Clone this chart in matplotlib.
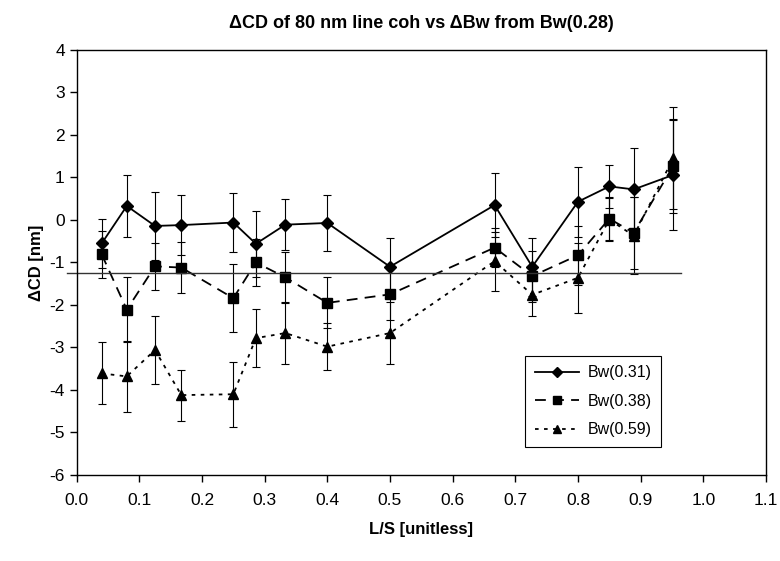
import matplotlib
matplotlib.use("Agg")
import matplotlib.pyplot as plt

plt.rcParams["font.family"] = ["Liberation Sans", "DejaVu Sans"]
plt.rcParams["axes.unicode_minus"] = False

ls_ratio = [0.04, 0.08, 0.125, 0.167, 0.25, 0.286, 0.333, 0.4, 0.5, 0.667, 0.727, 0.8, 0.85, 0.889, 0.952]

bw031 = [-0.55, 0.33, -0.14, -0.12, -0.06, -0.56, -0.11, -0.07, -1.1, 0.35, -1.1, 0.43, 0.79, 0.72, 1.06]
bw031_err = [0.58, 0.73, 0.8, 0.7, 0.7, 0.77, 0.6, 0.65, 0.68, 0.75, 0.68, 0.82, 0.5, 0.98, 1.3]

bw038 = [-0.81, -2.11, -1.09, -1.12, -1.84, -1.0, -1.35, -1.95, -1.75, -0.65, -1.32, -0.83, 0.03, -0.3, 1.27]
bw038_err = [0.55, 0.76, 0.55, 0.6, 0.8, 0.55, 0.6, 0.6, 0.6, 0.45, 0.6, 0.7, 0.5, 0.85, 1.1]

bw059 = [-3.61, -3.68, -3.06, -4.12, -4.1, -2.78, -2.66, -2.98, -2.66, -0.97, -1.76, -1.36, 0.01, -0.37, 1.45]
bw059_err = [0.73, 0.84, 0.79, 0.6, 0.77, 0.68, 0.72, 0.55, 0.72, 0.69, 0.5, 0.83, 0.5, 0.9, 1.2]

ref_level = -1.25
ref_span = [-0.015, 0.965]

fig = plt.figure(figsize=(7.8, 5.61), dpi=100)
ax = fig.add_axes([0.0983, 0.1533, 0.8837, 0.7576])

series = [
    (bw031, bw031_err, "-", "D", 6, "Bw(0.31)"),
    (bw038, bw038_err, (0, (6, 4)), "s", 7, "Bw(0.38)"),
    (bw059, bw059_err, (0, (2, 3)), "^", 7.5, "Bw(0.59)"),
]
for vals, errs, style, mk, size, name in series:
    ax.errorbar(ls_ratio, vals, yerr=errs, fmt="none", ecolor="black",
                elinewidth=0.8, capsize=3, capthick=0.8)
    ax.plot(ls_ratio, vals, color="black", lw=1.3, ls=style, marker=mk,
            ms=size, label=name)

ax.plot(ref_span, [ref_level, ref_level], color="#333333", lw=1.0, clip_on=False)

ax.set_xlim(0, 1.1)
ax.set_ylim(-6, 4)
ax.set_xticks([i / 10 for i in range(12)])
ax.set_xticklabels([f"{i / 10:.1f}" for i in range(12)])
ax.set_yticks(range(-6, 5))
ax.tick_params(direction="out", length=5, width=1, labelsize=12.5)
ax.tick_params(axis="x", pad=8)
for side in ax.spines.values():
    side.set_linewidth(1)

ax.set_xlabel("L/S [unitless]", fontsize=12, fontweight="bold", labelpad=10)
ax.set_ylabel("ΔCD [nm]", fontsize=12, fontweight="bold", labelpad=4)
ax.set_title("ΔCD of 80 nm line coh vs ΔBw from Bw(0.28)", fontsize=13,
             fontweight="bold", pad=16)

leg = ax.legend(loc="lower right", bbox_to_anchor=(0.848, 0.066), borderaxespad=0,
                fontsize=11.5, frameon=True, fancybox=False, edgecolor="black",
                framealpha=1, handlelength=2.8, borderpad=0.6, labelspacing=0.85,
                markerscale=0.8, handletextpad=0.5)
leg.get_frame().set_linewidth(0.8)

fig.savefig("out.png", dpi=100)
